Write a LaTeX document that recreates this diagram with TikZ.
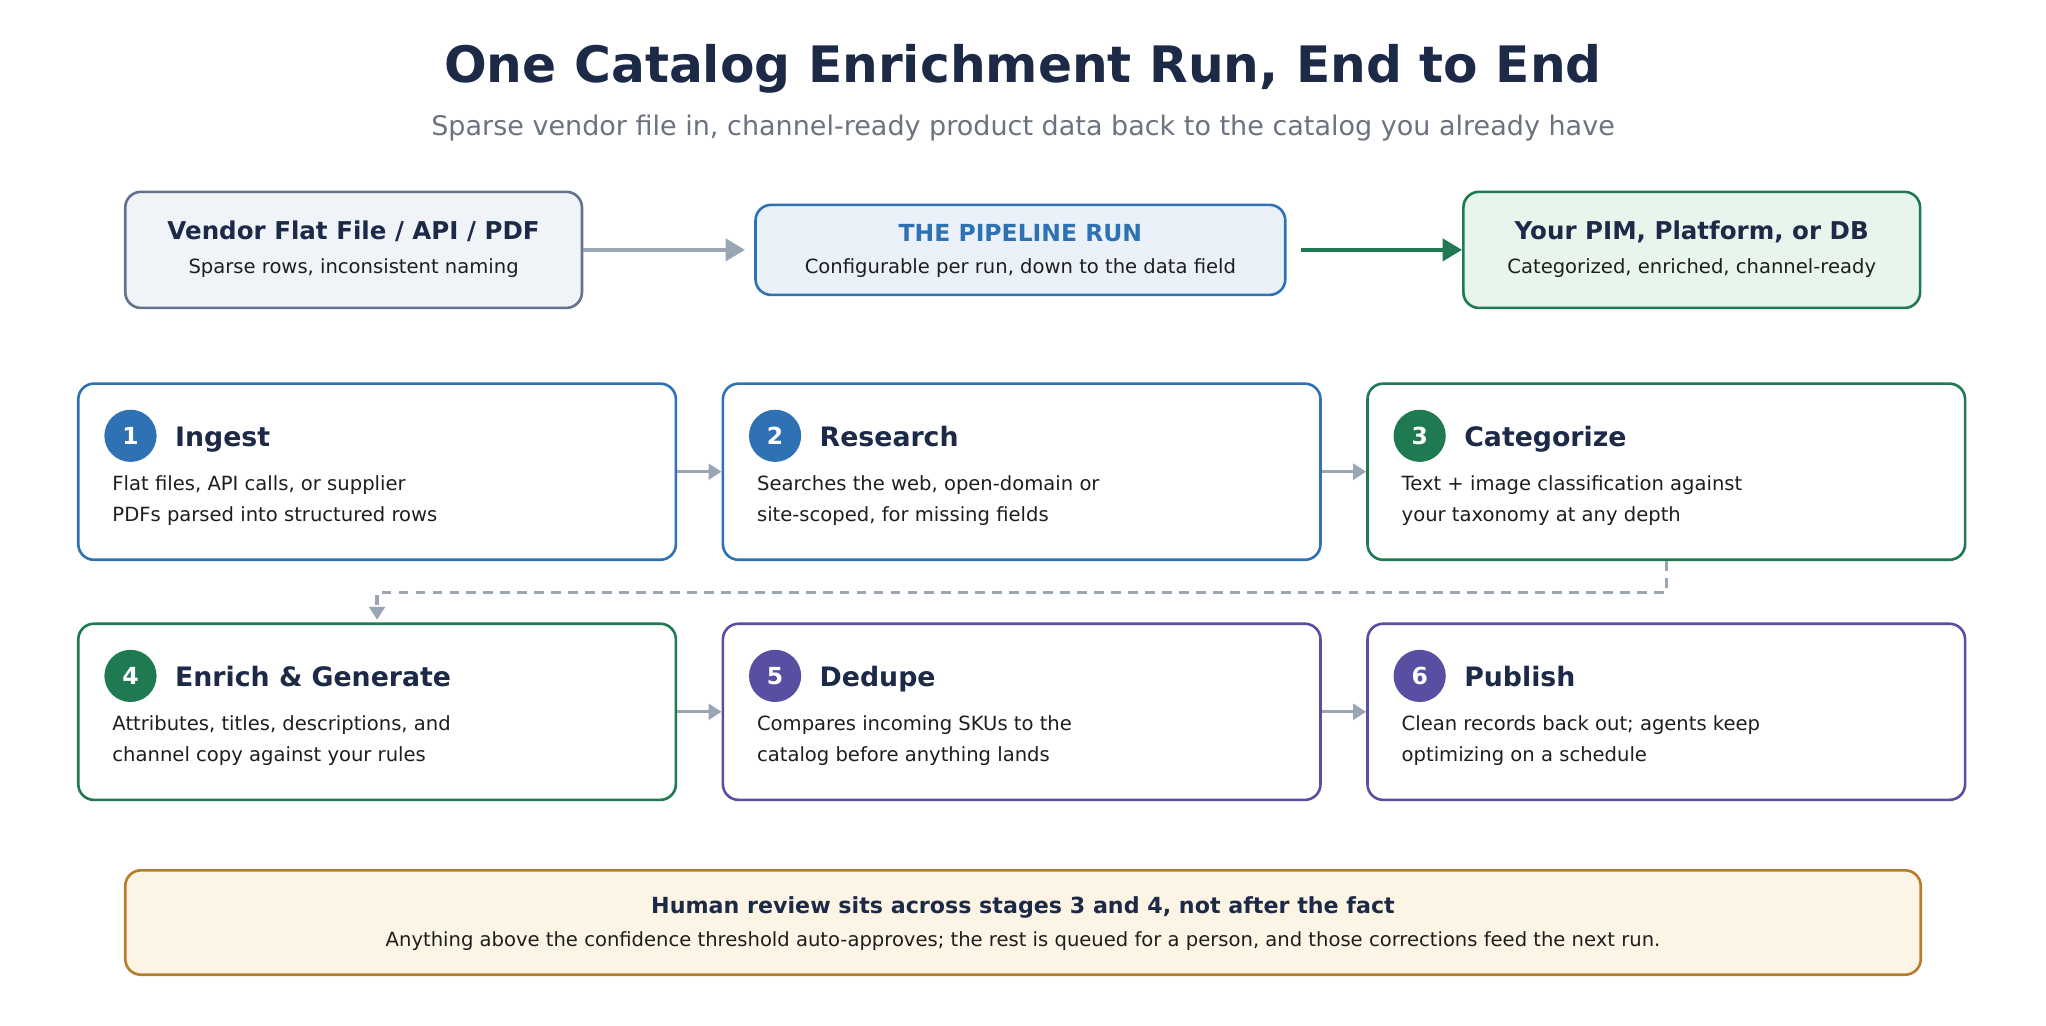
\documentclass[tikz,border=0pt]{standalone}
\usepackage{fontspec}
\setmainfont{DejaVu Sans}
\usetikzlibrary{positioning,arrows.meta}

\definecolor{navy}{RGB}{28,42,72}
\definecolor{ink}{RGB}{30,30,30}
\definecolor{muted}{RGB}{107,114,128}
\definecolor{runblue}{RGB}{46,114,180}
\definecolor{rungreen}{RGB}{31,122,82}
\definecolor{runpurple}{RGB}{88,79,163}
\definecolor{arrowgray}{RGB}{154,166,180}
\definecolor{slate}{RGB}{100,115,140}
\definecolor{slatefill}{RGB}{240,244,249}
\definecolor{bluefill}{RGB}{234,241,249}
\definecolor{greenfill}{RGB}{232,245,236}
\definecolor{reviewfill}{RGB}{252,244,229}
\definecolor{reviewedge}{RGB}{184,125,43}

\begin{document}
\begin{tikzpicture}[x=1pt, y=-1pt, node distance=47pt and 34pt,
  endbox/.style={draw, line width=2pt, rounded corners=12pt, minimum width=350pt, minimum height=89pt, inner sep=0pt},
  boxtitle/.style={anchor=base, inner sep=0pt, text=navy, font=\fontsize{18.8}{18.8}\selectfont\bfseries},
  boxsub/.style={anchor=base, inner sep=0pt, text=ink, font=\fontsize{15}{15}\selectfont},
  card/.style={draw, line width=2pt, rounded corners=12pt, minimum width=458pt, minimum height=135pt, fill=white, inner sep=0pt},
  num/.style={circle, minimum size=40pt, inner sep=0pt, text=white, font=\fontsize{18}{18}\selectfont\bfseries},
  stitle/.style={anchor=base west, inner sep=0pt, text=navy, font=\fontsize{20.5}{20.5}\selectfont\bfseries},
  sbody/.style={anchor=north west, inner sep=0pt, align=left, text=ink, font=\fontsize{15}{24}\selectfont},
  flow/.style={draw=arrowgray, line width=2.5pt, -{Triangle[length=10pt, width=12pt]}}]
\useasboundingbox (0,0) rectangle (1568,786);

% heading
\node [anchor=base, text=navy, font=\fontsize{38.5}{38.5}\selectfont\bfseries] (title) at (784,63) {One Catalog Enrichment Run, End to End};
\node [anchor=base, text=muted, font=\fontsize{20.7}{20.7}\selectfont] (subtitle) at (784,104) {Sparse vendor file in, channel-ready product data back to the catalog you already have};

% source, run, destination
\node [endbox, draw=slate, fill=slatefill] (vendor) at (271,191.5) {};
\node [boxtitle] (vendor-t) at ([yshift=8pt]vendor.center) {Vendor Flat File / API / PDF};
\node [boxsub] (vendor-s) at ([yshift=-18pt]vendor.center) {Sparse rows, inconsistent naming};

\node [endbox, draw=runblue, fill=bluefill, minimum width=406pt, minimum height=69pt] (run) at (782,191.5) {};
\node [boxtitle, text=runblue, font=\fontsize{18}{18}\selectfont\bfseries] (run-t) at ([yshift=6.3pt]run.center) {THE PIPELINE RUN};
\node [boxsub] (run-s) at ([yshift=-18pt]run.center) {Configurable per run, down to the data field};

\node [endbox, draw=rungreen, fill=greenfill] (pim) at (1296.5,191.5) {};
\node [boxtitle] (pim-t) at ([yshift=8pt]pim.center) {Your PIM, Platform, or DB};
\node [boxsub] (pim-s) at ([yshift=-18pt]pim.center) {Categorized, enriched, channel-ready};

\draw [flow, line width=3pt, -{Triangle[length=15pt, width=17pt]}, shorten >=7pt] (vendor) -- (run);
\draw [flow, draw=rungreen, line width=3pt, -{Triangle[length=15pt, width=17pt]}, shorten <=11pt] (run) -- (pim);

% stages
\node [card, draw=runblue] (card1) at (289,361.5) {};
\node [card, draw=runblue, right=of card1] (card2) {};
\node [card, draw=rungreen, right=of card2] (card3) {};
\node [card, draw=rungreen, below=of card1] (card4) {};
\node [card, draw=runpurple, right=of card4] (card5) {};
\node [card, draw=runpurple, right=of card5] (card6) {};

\node [num, fill=runblue] (num1) at ([xshift=41pt, yshift=-41pt]card1.north west) {1};
\node [stitle] (title1) at ([xshift=75pt, yshift=-49pt]card1.north west) {Ingest};
\node [sbody] (body1) at ([xshift=27pt, yshift=-71pt]card1.north west) {Flat files, API calls, or supplier\\PDFs parsed into structured rows};

\node [num, fill=runblue] (num2) at ([xshift=41pt, yshift=-41pt]card2.north west) {2};
\node [stitle] (title2) at ([xshift=75pt, yshift=-49pt]card2.north west) {Research};
\node [sbody] (body2) at ([xshift=27pt, yshift=-71pt]card2.north west) {Searches the web, open-domain or\\site-scoped, for missing fields};

\node [num, fill=rungreen] (num3) at ([xshift=41pt, yshift=-41pt]card3.north west) {3};
\node [stitle] (title3) at ([xshift=75pt, yshift=-49pt]card3.north west) {Categorize};
\node [sbody] (body3) at ([xshift=27pt, yshift=-71pt]card3.north west) {Text + image classification against\\your taxonomy at any depth};

\node [num, fill=rungreen] (num4) at ([xshift=41pt, yshift=-41pt]card4.north west) {4};
\node [stitle] (title4) at ([xshift=75pt, yshift=-49pt]card4.north west) {Enrich \& Generate};
\node [sbody] (body4) at ([xshift=27pt, yshift=-71pt]card4.north west) {Attributes, titles, descriptions, and\\channel copy against your rules};

\node [num, fill=runpurple] (num5) at ([xshift=41pt, yshift=-41pt]card5.north west) {5};
\node [stitle] (title5) at ([xshift=75pt, yshift=-49pt]card5.north west) {Dedupe};
\node [sbody] (body5) at ([xshift=27pt, yshift=-71pt]card5.north west) {Compares incoming SKUs to the\\catalog before anything lands};

\node [num, fill=runpurple] (num6) at ([xshift=41pt, yshift=-41pt]card6.north west) {6};
\node [stitle] (title6) at ([xshift=75pt, yshift=-49pt]card6.north west) {Publish};
\node [sbody] (body6) at ([xshift=27pt, yshift=-71pt]card6.north west) {Clean records back out; agents keep\\optimizing on a schedule};

\draw [flow] (card1) -- (card2);
\draw [flow] (card2) -- (card3);
\draw [flow, dash pattern=on 7.5pt off 5.5pt, shorten >=2pt] (card3.south) -- ++(0,24) -| (card4.north);
\draw [flow] (card4) -- (card5);
\draw [flow] (card5) -- (card6);

% review note
\node [draw=reviewedge, fill=reviewfill, line width=2pt, rounded corners=12pt, minimum width=1376pt, minimum height=80pt] (review) at (784,707) {};
\node [boxtitle, font=\fontsize{17}{17}\selectfont\bfseries] (review-t) at ([yshift=6.8pt]review.center) {Human review sits across stages 3 and 4, not after the fact};
\node [boxsub, font=\fontsize{15}{15}\selectfont] (review-s) at ([yshift=-18.5pt]review.center) {Anything above the confidence threshold auto-approves; the rest is queued for a person, and those corrections feed the next run.};
\end{tikzpicture}
\end{document}
